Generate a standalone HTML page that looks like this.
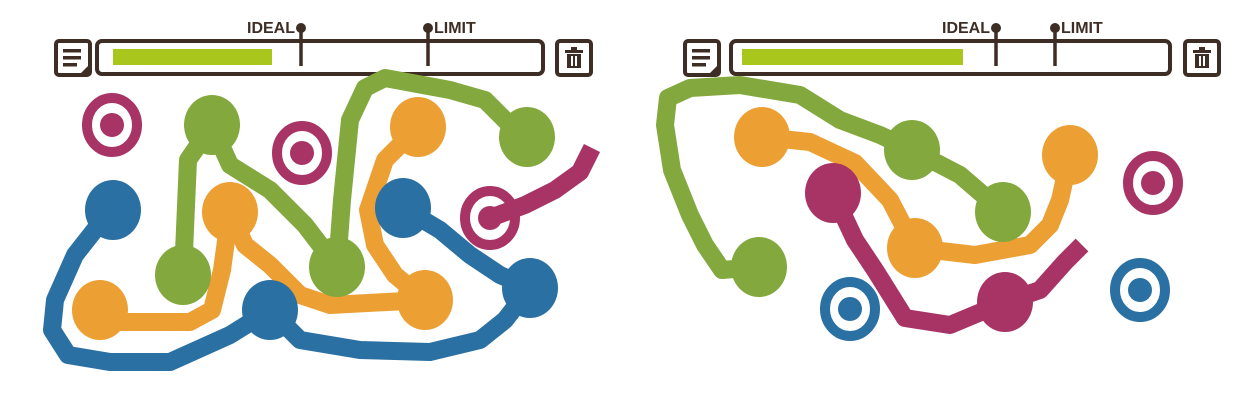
<!DOCTYPE html>
<html><head><meta charset="utf-8"><style>
html,body{margin:0;padding:0;background:#fff;}
svg{display:block;}
text{font-family:"Liberation Sans",sans-serif;font-weight:bold;font-size:16px;fill:#3e2d24;}
</style></head><body>
<svg width="1254" height="408" viewBox="0 0 1254 408" xmlns="http://www.w3.org/2000/svg">
<defs>
<g id="note">
<rect x="0" y="0" width="34" height="34" rx="3" fill="none" stroke="#3e2d24" stroke-width="4"/>
<rect x="7" y="8" width="18" height="3.5" fill="#3e2d24"/>
<rect x="7" y="15" width="18" height="3.5" fill="#3e2d24"/>
<rect x="7" y="22" width="14" height="3.5" fill="#3e2d24"/>
<polygon points="32,25 32,32 25,32" fill="#3e2d24"/>
</g>
<g id="trash">
<rect x="0" y="0" width="34" height="34" rx="3" fill="none" stroke="#3e2d24" stroke-width="4"/>
<rect x="8" y="9" width="18" height="3" fill="#3e2d24"/>
<rect x="14" y="6" width="6" height="3" fill="#3e2d24"/>
<rect x="10" y="13" width="14" height="14" fill="#3e2d24"/>
<rect x="14" y="15" width="2" height="10" fill="#fff"/>
<rect x="18" y="15" width="2" height="10" fill="#fff"/>
</g>
</defs>
<!-- LEFT PANEL -->
<use href="#note" x="56" y="41"/>
<rect x="97" y="41" width="446" height="33" rx="5" fill="none" stroke="#3e2d24" stroke-width="4"/>
<rect x="113" y="49" width="159" height="16" fill="#a8c61c"/>
<line x1="301" y1="28" x2="301" y2="66" stroke="#3e2d24" stroke-width="3.5"/>
<circle cx="301" cy="28" r="5" fill="#3e2d24"/>
<line x1="428" y1="28" x2="428" y2="66" stroke="#3e2d24" stroke-width="3.5"/>
<circle cx="428" cy="28" r="5" fill="#3e2d24"/>
<text x="295" y="33" text-anchor="end">IDEAL</text>
<text x="434" y="33">LIMIT</text>
<use href="#trash" x="557" y="41"/>

<g fill="none" stroke-width="18" stroke-linejoin="round" stroke-linecap="butt">
<path d="M112,208 L75,255 L55,300 L52,330 L68,355 L110,362 L170,362 L230,335 L270,310 L300,340 L360,350 L430,352 L480,340 L505,320 L530,288" stroke="#2a70a3"/>
<path d="M403,208 L440,230 L470,255 L500,275 L530,288" stroke="#2a70a3"/>
<path d="M100,310 L120,322 L190,322 L212,310 L222,270 L230,212" stroke="#ec9f33"/>
<path d="M230,212 L245,245 L270,265 L300,295 L330,305 L425,300" stroke="#ec9f33"/>
<path d="M418,127 L385,160 L368,210 L375,245 L395,275 L425,300" stroke="#ec9f33"/>
<path d="M212,125 L188,160 L183,275" stroke="#83a83d"/>
<path d="M212,125 L230,165 L270,190 L305,225 L337,267" stroke="#83a83d"/>
<path d="M337,267 L342,200 L350,120 L365,88 L385,78 L450,90 L485,100 L510,125 L527,137" stroke="#83a83d"/>
<path d="M490,218 L525,205 L555,190 L580,172 L592,148" stroke="#a83466"/>
</g>
<g fill="#2a70a3">
<ellipse cx="113" cy="210" rx="28" ry="30"/>
<ellipse cx="403" cy="208" rx="28" ry="30"/>
<ellipse cx="270" cy="310" rx="28" ry="30"/>
<ellipse cx="530" cy="288" rx="28" ry="30"/>
</g>
<g fill="#ec9f33">
<ellipse cx="230" cy="212" rx="28" ry="30"/>
<ellipse cx="418" cy="127" rx="28" ry="30"/>
<ellipse cx="425" cy="300" rx="28" ry="30"/>
<ellipse cx="100" cy="310" rx="28" ry="30"/>
</g>
<g fill="#83a83d">
<ellipse cx="212" cy="125" rx="28" ry="30"/>
<ellipse cx="527" cy="137" rx="28" ry="30"/>
<ellipse cx="183" cy="275" rx="28" ry="30"/>
<ellipse cx="337" cy="267" rx="28" ry="30"/>
</g>
<g fill="none" stroke="#a83466" stroke-width="10">
<ellipse cx="112" cy="125" rx="25" ry="27"/>
<ellipse cx="302" cy="153" rx="25" ry="27"/>
<ellipse cx="490" cy="218" rx="25" ry="27"/>
</g>
<g fill="#a83466">
<circle cx="112" cy="125" r="12"/>
<circle cx="302" cy="153" r="12"/>
<circle cx="490" cy="218" r="12"/>
</g>

<!-- RIGHT PANEL -->
<use href="#note" x="685" y="41"/>
<rect x="731" y="41" width="439" height="33" rx="5" fill="none" stroke="#3e2d24" stroke-width="4"/>
<rect x="742" y="49" width="221" height="16" fill="#a8c61c"/>
<line x1="996" y1="28" x2="996" y2="66" stroke="#3e2d24" stroke-width="3.5"/>
<circle cx="996" cy="28" r="5" fill="#3e2d24"/>
<line x1="1055" y1="28" x2="1055" y2="66" stroke="#3e2d24" stroke-width="3.5"/>
<circle cx="1055" cy="28" r="5" fill="#3e2d24"/>
<text x="990" y="33" text-anchor="end">IDEAL</text>
<text x="1061" y="33">LIMIT</text>
<use href="#trash" x="1185" y="41"/>

<g fill="none" stroke-width="18" stroke-linejoin="round">
<path d="M759,267 L722,270 L705,245 L690,215 L672,170 L665,125 L668,98 L690,88 L740,85 L800,95 L840,120 L880,135 L912,150" stroke="#83a83d"/>
<path d="M912,150 L960,175 L1003,212" stroke="#83a83d"/>
<path d="M762,137 L810,142 L855,163 L890,200 L915,248" stroke="#ec9f33"/>
<path d="M915,248 L975,255 L1030,245 L1050,225 L1060,200 L1070,155" stroke="#ec9f33"/>
<path d="M833,193 L855,240 L875,270 L905,318 L950,325 L1005,302" stroke="#a83466"/>
<path d="M1005,302 L1040,290 L1065,262 L1082,245" stroke="#a83466"/>
</g>
<g fill="#ec9f33">
<ellipse cx="762" cy="137" rx="28" ry="30"/>
<ellipse cx="1070" cy="155" rx="28" ry="30"/>
<ellipse cx="915" cy="248" rx="28" ry="30"/>
</g>
<g fill="#83a83d">
<ellipse cx="912" cy="150" rx="28" ry="30"/>
<ellipse cx="1003" cy="212" rx="28" ry="30"/>
<ellipse cx="759" cy="267" rx="28" ry="30"/>
</g>
<g fill="#a83466">
<ellipse cx="833" cy="193" rx="28" ry="30"/>
<ellipse cx="1005" cy="302" rx="28" ry="30"/>
</g>
<ellipse cx="1153" cy="183" rx="25" ry="27" fill="none" stroke="#a83466" stroke-width="10"/>
<circle cx="1153" cy="183" r="12" fill="#a83466"/>
<g fill="none" stroke="#2a70a3" stroke-width="10">
<ellipse cx="850" cy="309" rx="25" ry="27"/>
<ellipse cx="1140" cy="290" rx="25" ry="27"/>
</g>
<g fill="#2a70a3">
<circle cx="850" cy="309" r="12"/>
<circle cx="1140" cy="290" r="12"/>
</g>
</svg>
</body></html>
